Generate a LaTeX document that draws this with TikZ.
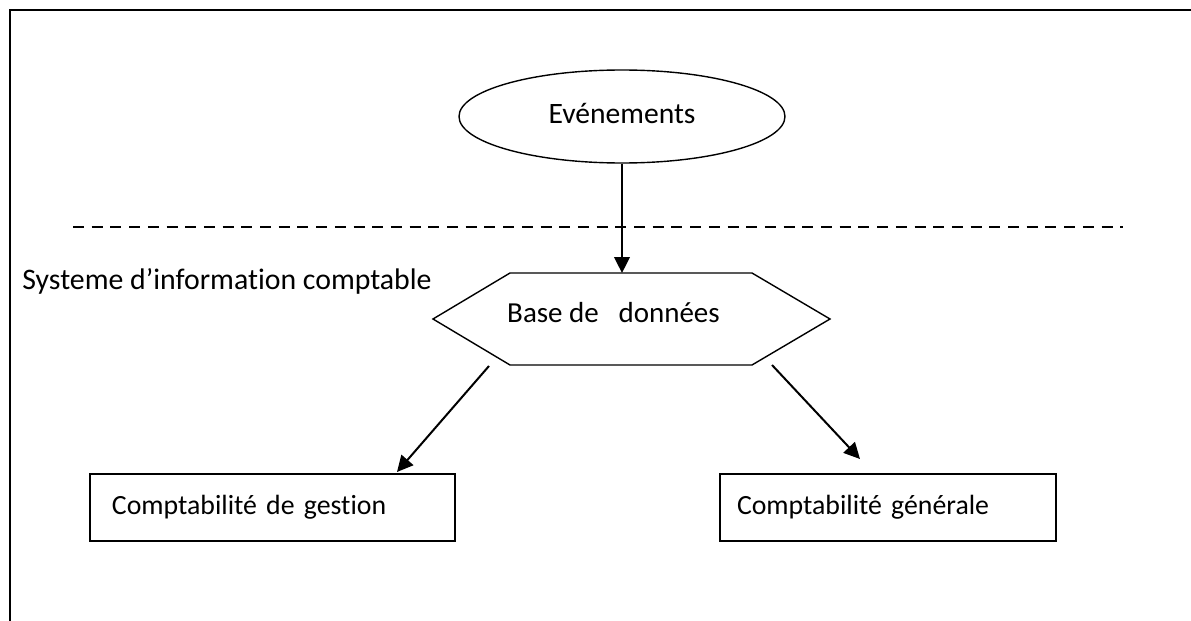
\documentclass[tikz,border=0pt]{standalone}
\usepackage{fontspec}
\setmainfont{Carlito}[Ligatures=CommonOff]
\usetikzlibrary{shapes.geometric,arrows.meta,calc}

\newcommand{\labelfont}{\fontsize{14.5}{17}\selectfont}
\newcommand{\boxfont}{\fontsize{13.9}{17}\selectfont}

\tikzset{
  txt/.style={font=\labelfont, inner sep=0pt},
  outline/.style={draw=black, line width=0.7pt},
  flow/.style={draw=black, line width=1pt, -{Triangle[length=8pt,width=7.8pt]}},
  framebox/.style={draw=black, line width=0.9pt, minimum height=33.5pt,
    inner ysep=0pt, align=left, font=\boxfont},
}

\begin{document}
\begin{tikzpicture}[x=0.5pt,y=-0.5pt]
  \useasboundingbox (0,0) rectangle (1191,621);

  % page frame: top and left edges
  \draw[line width=1pt] (1191,9.5) -- (9.5,9.5) -- (9.5,621);

  % source of events
  \node[ellipse, outline, minimum width=163pt, minimum height=46.5pt,
        inner sep=0pt, font=\fontsize{14.8}{17}\selectfont] (ev) at (622,116.5)
        {\raisebox{3pt}{Evénements}};

  % boundary of the accounting information system
  \coordinate (dl) at (73,227);
  \coordinate (dr) at (1123,227);
  \draw[line width=1.3pt, dash pattern=on 5.5pt off 3.85pt] (dl) -- (dr);
  \node[inner sep=0pt, font=\fontsize{14.9}{18}\selectfont, anchor=west] (sic)
        at (22,281) {Systeme d’information comptable};

  % database (hexagon)
  \node[minimum width=198.5pt, minimum height=46pt, inner sep=0pt, outer sep=0pt]
        (base) at (631.5,319) {};
  \draw[outline]
    (base.west) -- ([xshift=38.5pt]base.north west) -- ([xshift=-39pt]base.north east)
    -- (base.east) -- ([xshift=-39pt]base.south east) -- ([xshift=38.5pt]base.south west)
    -- cycle;
  \node[txt] (basetxt) at (613.5,313) {Base de\ \ \ données};

  % outputs
  \node[framebox, inner xsep=11pt, text width=160.5pt] (gestion) at (272.5,507.5)
        {Comptabilité de gestion};
  \node[framebox, inner xsep=8.5pt, text width=151pt] (generale) at (888,507.5)
        {Comptabilité générale};

  % flows
  \draw[flow] (ev.south) -- (ev.south |- base.north);
  \coordinate (l0) at (489,366);
  \coordinate (l1) at (397,472);
  \coordinate (r0) at (772,365);
  \coordinate (r1) at (860,459);
  \draw[flow] (l0) -- (l1);
  \draw[flow] (r0) -- (r1);
\end{tikzpicture}
\end{document}
